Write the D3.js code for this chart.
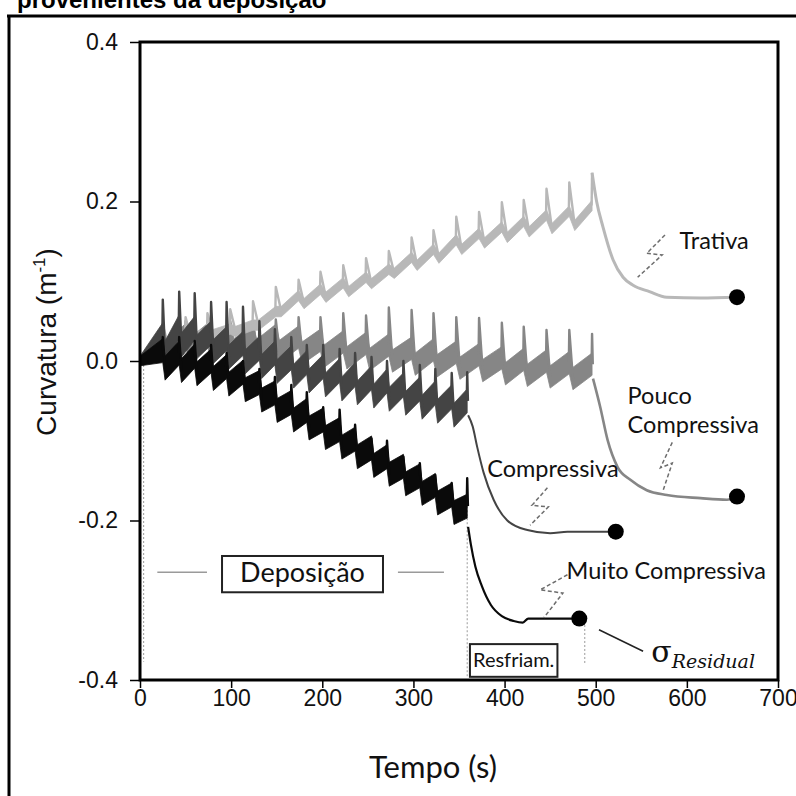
<!DOCTYPE html>
<html><head><meta charset="utf-8">
<script src="https://cdn.jsdelivr.net/npm/d3@7"></script>
<style>body{margin:0;background:#fff}svg{display:block}</style>
</head><body>
<svg id="c" width="796" height="796"></svg>
<script>
// ---------- axis data ----------
const xTicks = [0, 100, 200, 300, 400, 500, 600, 700];
const yTicks = [-0.4, -0.2, 0.0, 0.2, 0.4];
const yTickLabels = ["-0.4", "-0.2", "0.0", "0.2", "0.4"];

// ---------- Trativa (light grey) ----------
const trativaSpikeT = [25, 50, 74, 99, 124, 149, 174, 198, 223, 248, 273, 298, 322, 347, 372, 397, 421, 446, 471, 496];
const trativaPre  = [0.02, 0.03, 0.035, 0.04, 0.045, 0.062, 0.082, 0.09, 0.098, 0.105, 0.115, 0.13, 0.14, 0.152, 0.16, 0.168, 0.175, 0.183, 0.188, 0.195];
const trativaPeak = [0.045, 0.055, 0.06, 0.065, 0.075, 0.093, 0.102, 0.112, 0.12, 0.129, 0.138, 0.155, 0.164, 0.181, 0.187, 0.199, 0.202, 0.216, 0.224, 0.236];
const trativaPost = [0.02, 0.028, 0.033, 0.037, 0.045, 0.062, 0.072, 0.08, 0.087, 0.097, 0.11, 0.12, 0.129, 0.14, 0.148, 0.155, 0.162, 0.166, 0.17, null];
const trativaCoolT = [496, 501, 508, 519, 530, 541, 559, 578, 615, 655];
const trativaCoolV = [0.236, 0.2, 0.168, 0.127, 0.105, 0.095, 0.087, 0.08, 0.079, 0.08];

// ---------- Pouco Compressiva (medium grey) ----------
const poucoSpikeT = [25, 50, 74, 99, 124, 149, 174, 198, 223, 248, 273, 298, 322, 347, 372, 397, 421, 446, 471, 496];
const poucoPre  = [0.028, 0.033, 0.033, 0.033, 0.033, 0.032, 0.03, 0.026, 0.024, 0.022, 0.02, 0.016, 0.014, 0.011, 0.008, 0.004, 0.002, 0.0, -0.002, -0.004];
const poucoPeak = [0.04, 0.05, 0.05, 0.05, 0.05, 0.052, 0.055, 0.055, 0.06, 0.057, 0.067, 0.064, 0.06, 0.055, 0.054, 0.048, 0.043, 0.039, 0.039, 0.034];
const poucoPost = [0.01, 0.014, 0.014, 0.014, 0.013, 0.012, 0.01, 0.006, 0.004, 0.002, 0.0, -0.004, -0.006, -0.009, -0.012, -0.016, -0.018, -0.02, -0.022, null];
const poucoCoolT = [497, 505, 513, 524, 538, 556, 578, 615, 644, 655];
const poucoCoolV = [-0.022, -0.058, -0.099, -0.133, -0.149, -0.162, -0.168, -0.172, -0.174, -0.17];

// ---------- Compressiva (dark grey) ----------
const compSpikeT = [25, 43, 60, 78, 95, 113, 131, 148, 166, 183, 201, 219, 236, 254, 271, 289, 307, 324, 342, 359];
const compPre  = [0.033, 0.043, 0.041, 0.035, 0.028, 0.022, 0.016, 0.01, 0.004, -0.002, -0.007, -0.012, -0.017, -0.021, -0.025, -0.03, -0.035, -0.04, -0.045, -0.05];
const compPeak = [0.077, 0.087, 0.085, 0.074, 0.074, 0.068, 0.05, 0.04, 0.03, 0.02, 0.02, 0.015, 0.01, 0.005, 0.0, 0.0, -0.005, -0.01, -0.015, -0.014];
const compPost = [0.01, 0.02, 0.018, 0.012, 0.005, -0.001, -0.007, -0.013, -0.019, -0.025, -0.03, -0.035, -0.04, -0.044, -0.048, -0.053, -0.058, -0.063, -0.068, null];
const compCoolT = [360, 365, 370, 377, 388, 403, 425, 450, 469, 516, 522];
const compCoolV = [-0.068, -0.082, -0.108, -0.14, -0.174, -0.2, -0.212, -0.216, -0.214, -0.214, -0.214];

// ---------- Muito Compressiva (black) ----------
const muitoSpikeT = [25, 43, 60, 78, 95, 113, 131, 148, 166, 183, 201, 219, 236, 254, 271, 289, 307, 324, 342, 359];
const muitoPre  = [0.013, 0.01, 0.006, 0.0, -0.007, -0.014, -0.027, -0.04, -0.052, -0.062, -0.074, -0.086, -0.098, -0.109, -0.12, -0.132, -0.144, -0.156, -0.168, -0.182];
const muitoPeak = [0.03, 0.03, 0.025, 0.02, 0.01, 0.0, -0.01, -0.02, -0.03, -0.039, -0.058, -0.061, -0.08, -0.097, -0.1, -0.12, -0.128, -0.143, -0.153, -0.147];
const muitoPost = [-0.009, -0.012, -0.016, -0.022, -0.029, -0.036, -0.049, -0.062, -0.074, -0.084, -0.096, -0.108, -0.12, -0.131, -0.142, -0.154, -0.166, -0.178, -0.19, null];
const muitoCoolT = [360, 363, 368, 375, 385, 397, 410, 420, 426, 450, 482];
const muitoCoolV = [-0.208, -0.23, -0.258, -0.282, -0.306, -0.32, -0.326, -0.328, -0.323, -0.323, -0.323];

// ---------- series table ----------
const series = [
  {name:"Pouco", T:poucoSpikeT, pre:poucoPre, peak:poucoPeak, post:poucoPost, coolT:poucoCoolT, coolV:poucoCoolV,
   color:"#868686", half:0.014, decay:4, coolW:2.6, coolFromPeak:false},
  {name:"Trativa", T:trativaSpikeT, pre:trativaPre, peak:trativaPeak, post:trativaPost, coolT:trativaCoolT, coolV:trativaCoolV,
   color:"#b8b8b8", half:0.0065, decay:6, coolW:3, coolFromPeak:true},
  {name:"Compressiva", T:compSpikeT, pre:compPre, peak:compPeak, post:compPost, coolT:compCoolT, coolV:compCoolV,
   color:"#444444", half:0.015, decay:2.5, coolW:2, coolFromPeak:false},
  {name:"Muito", T:muitoSpikeT, pre:muitoPre, peak:muitoPeak, post:muitoPost, coolT:muitoCoolT, coolV:muitoCoolV,
   color:"#0a0a0a", half:0.015, decay:2.5, coolW:2.2, coolFromPeak:false}
];

// ---------- annotations ----------
const zigs = [
  {t:[576, 556, 573, 546], v:[0.158, 0.135, 0.133, 0.105]},
  {t:[584, 571, 584, 574], v:[-0.102, -0.134, -0.128, -0.162]},
  {t:[447, 430, 448, 428], v:[-0.159, -0.181, -0.183, -0.206]},
  {t:[469, 439, 464, 443], v:[-0.268, -0.287, -0.291, -0.322]}
];

const svg = d3.select("#c");
const x = d3.scaleLinear().domain([0, 700]).range([140, 778]);
const y = d3.scaleLinear().domain([-0.4, 0.4]).range([680, 42]);

// Outer page frame and cut title
svg.append("text").attr("x", 17).attr("y", 8)
  .attr("font-family", "Liberation Sans, Arial, sans-serif").attr("font-weight", "bold")
  .attr("font-size", 24).attr("fill", "#000").text("provenientes da deposição");
svg.append("rect").attr("x", 0).attr("y", 13).attr("width", 796).attr("height", 4).attr("fill", "#fff");
svg.append("line").attr("x1", 7).attr("x2", 796).attr("y1", 16).attr("y2", 16).attr("stroke", "#000").attr("stroke-width", 3);
svg.append("line").attr("x1", 9).attr("x2", 9).attr("y1", 15).attr("y2", 796).attr("stroke", "#000").attr("stroke-width", 3);

const plot = svg.append("g");

// dotted guide lines
const dotted = [
  {t:4, v0:0, v1:-0.377},
  {t:359, v0:-0.147, v1:-0.397},
  {t:488, v0:-0.331, v1:-0.381}
];
plot.selectAll(".dg").data(dotted).join("line")
  .attr("x1", d => x(d.t)).attr("x2", d => x(d.t))
  .attr("y1", d => y(d.v0)).attr("y2", d => y(d.v1))
  .attr("stroke", "#9a9a9a").attr("stroke-width", 1).attr("stroke-dasharray", "2,2");

// series
const area = d3.area().x(d => x(d[0])).y0(d => y(d[1] - d[2])).y1(d => y(d[1] + d[2]));
const line = d3.line().x(d => x(d[0])).y(d => y(d[1]));
const coolLine = d3.line().x(d => x(d[0])).y(d => y(d[1])).curve(d3.curveMonotoneX);

series.forEach(s => {
  const g = plot.append("g");
  const knots = [[0, 0, s.half * 0.4]];
  s.T.forEach((t, i) => {
    knots.push([t, s.pre[i], s.half]);
    if (s.post[i] != null) knots.push([t + s.decay, s.post[i], s.half]);
  });
  g.append("path").attr("d", area(knots)).attr("fill", s.color).attr("stroke", s.color).attr("stroke-width", 0.8);
  // spikes
  s.T.forEach((t, i) => {
    const last = s.post[i] == null;
    let pts;
    if (!last) pts = [[t - 0.5, s.pre[i]], [t, s.peak[i]], [t + s.decay, s.post[i]]];
    else if (s.coolFromPeak) pts = [[t - 0.5, s.pre[i]], [t, s.peak[i]]];
    else pts = [[t - 0.5, s.pre[i]], [t, s.peak[i]], [t + 0.8, s.pre[i]]];
    g.append("path").attr("d", line(pts)).attr("fill", "none")
      .attr("stroke", s.color).attr("stroke-width", 2.4).attr("stroke-linejoin", "round");
  });
  // cooling
  const cool = s.coolT.map((t, i) => [t, s.coolV[i]]);
  g.append("path").attr("d", coolLine(cool)).attr("fill", "none")
    .attr("stroke", s.color).attr("stroke-width", s.coolW).attr("stroke-linejoin", "round");
});

// end dots
series.forEach(s => {
  const n = s.coolT.length - 1;
  plot.append("circle").attr("cx", x(s.coolT[n])).attr("cy", y(s.coolV[n])).attr("r", 8).attr("fill", "#000");
});

// zig-zag markers
plot.selectAll(".zig").data(zigs).join("path")
  .attr("d", d => line(d.t.map((t, i) => [t, d.v[i]])))
  .attr("fill", "none").attr("stroke", "#6d6d6d").attr("stroke-width", 1.5).attr("stroke-dasharray", "4,2.5");

// axes
const xAxis = d3.axisBottom(x).tickValues(xTicks).tickSize(8).tickSizeOuter(0).tickPadding(2).tickFormat(d3.format("d"));
const gx = svg.append("g").attr("transform", "translate(0,680)").call(xAxis);
gx.select(".domain").remove();
gx.selectAll("line").attr("stroke", "#000").attr("stroke-width", 1.5);
gx.selectAll("text").attr("font-family", "Liberation Sans, Arial, sans-serif").attr("font-size", 23).attr("fill", "#111");

const yAxis = d3.axisLeft(y).tickValues(yTicks).tickSize(10).tickSizeOuter(0).tickPadding(12)
  .tickFormat((d, i) => yTickLabels[i]);
const gy = svg.append("g").attr("transform", "translate(140,0)").call(yAxis);
gy.select(".domain").remove();
gy.selectAll("line").attr("stroke", "#000").attr("stroke-width", 1.5);
gy.selectAll("text").attr("font-family", "Liberation Sans, Arial, sans-serif").attr("font-size", 23).attr("fill", "#111");

// frame
svg.append("rect").attr("x", 140).attr("y", 42).attr("width", 638).attr("height", 638)
  .attr("fill", "none").attr("stroke", "#000").attr("stroke-width", 3);

// axis titles
const yt = svg.append("text").attr("transform", "translate(56,342) rotate(-90)")
  .attr("text-anchor", "middle").attr("font-family", "Liberation Sans, Arial, sans-serif")
  .attr("font-size", 28).attr("fill", "#111");
yt.append("tspan").text("Curvatura (m");
yt.append("tspan").attr("font-size", 17).attr("dy", -11).text("-1");
yt.append("tspan").attr("dy", 11).text(")");

svg.append("text").attr("x", 433).attr("y", 778).attr("text-anchor", "middle")
  .attr("font-family", "Lato, sans-serif").attr("font-size", 31).attr("fill", "#111").text("Tempo (s)");

// labels
const labelFont = "Lato, sans-serif";
const labels = [
  {t:592, v:0.14, s:"Trativa"},
  {t:535, v:-0.054, s:"Pouco"},
  {t:535, v:-0.09, s:"Compressiva"},
  {t:381, v:-0.146, s:"Compressiva"},
  {t:468, v:-0.273, s:"Muito Compressiva"}
];
plot.selectAll(".lab").data(labels).join("text")
  .attr("x", d => x(d.t)).attr("y", d => y(d.v))
  .attr("font-family", labelFont).attr("font-size", 23.5).attr("fill", "#111").text(d => d.s);

// Deposição box
const depLines = [{t0:19, t1:73.5}, {t0:283, t1:333.5}];
plot.selectAll(".dl").data(depLines).join("line")
  .attr("x1", d => x(d.t0)).attr("x2", d => x(d.t1)).attr("y1", y(-0.265)).attr("y2", y(-0.265))
  .attr("stroke", "#9a9a9a").attr("stroke-width", 1.5);
plot.append("rect").attr("x", x(90)).attr("y", y(-0.2445)).attr("width", x(266.6) - x(90)).attr("height", y(-0.29) - y(-0.2445))
  .attr("fill", "#fff").attr("stroke", "#222").attr("stroke-width", 2);
plot.append("text").attr("x", x(178.3)).attr("y", y(-0.2765)).attr("text-anchor", "middle")
  .attr("font-family", labelFont).attr("font-size", 27).attr("fill", "#111").text("Deposição");

// Resfriam. box
plot.append("rect").attr("x", x(362)).attr("y", y(-0.355)).attr("width", x(458) - x(362)).attr("height", y(-0.396) - y(-0.355))
  .attr("fill", "#fff").attr("stroke", "#222").attr("stroke-width", 2);
plot.append("text").attr("x", x(410)).attr("y", y(-0.384)).attr("text-anchor", "middle")
  .attr("font-family", labelFont).attr("font-size", 20).attr("fill", "#111").text("Resfriam.");

// sigma residual
plot.append("line").attr("x1", x(503.6)).attr("y1", y(-0.337)).attr("x2", x(552)).attr("y2", y(-0.364))
  .attr("stroke", "#222").attr("stroke-width", 1.5);
const sig = plot.append("text").attr("x", x(561)).attr("y", y(-0.378))
  .attr("font-family", "DejaVu Serif, serif").attr("fill", "#111");
sig.append("tspan").attr("font-size", 30).text("σ");
sig.append("tspan").attr("font-size", 19).attr("font-style", "italic").attr("dy", 6).text("Residual");
</script>
</body></html>
